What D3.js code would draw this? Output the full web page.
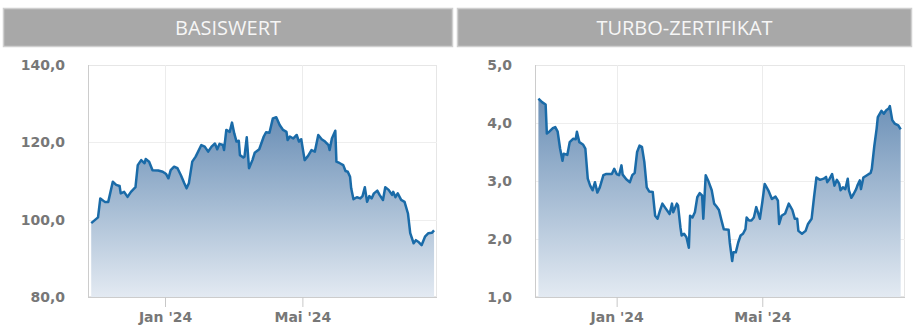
<!DOCTYPE html>
<html><head><meta charset="utf-8">
<script src="https://cdn.jsdelivr.net/npm/d3@7/dist/d3.min.js"></script>
<style>html,body{margin:0;padding:0;background:#fff}svg{display:block}</style>
</head><body>
<svg id="c" width="915" height="326"></svg>
<script>
const titles = ["BASISWERT", "TURBO-ZERTIFIKAT"];
const xTickDates = ["2024-01-01", "2024-05-01"];
const xTickLabels = ["Jan '24", "Mai '24"];
const basisTicks = [80, 100, 120, 140];
const turboTicks = [1, 2, 3, 4, 5];

const basisDates = ["2023-10-28","2023-11-03","2023-11-05","2023-11-09","2023-11-12","2023-11-16","2023-11-19","2023-11-22","2023-11-23","2023-11-26","2023-11-29","2023-12-02","2023-12-06","2023-12-08","2023-12-11","2023-12-14","2023-12-15","2023-12-18","2023-12-21","2023-12-26","2023-12-30","2024-01-02","2024-01-04","2024-01-06","2024-01-09","2024-01-12","2024-01-15","2024-01-18","2024-01-20","2024-01-22","2024-01-25","2024-01-28","2024-02-02","2024-02-05","2024-02-08","2024-02-11","2024-02-14","2024-02-16","2024-02-18","2024-02-21","2024-02-22","2024-02-24","2024-02-27","2024-02-29","2024-03-02","2024-03-04","2024-03-06","2024-03-07","2024-03-10","2024-03-11","2024-03-13","2024-03-15","2024-03-18","2024-03-20","2024-03-24","2024-03-28","2024-03-30","2024-04-02","2024-04-05","2024-04-08","2024-04-11","2024-04-14","2024-04-17","2024-04-18","2024-04-20","2024-04-23","2024-04-26","2024-04-28","2024-04-30","2024-05-03","2024-05-06","2024-05-09","2024-05-12","2024-05-15","2024-05-18","2024-05-21","2024-05-24","2024-05-25","2024-05-27","2024-05-30","2024-05-31","2024-06-03","2024-06-06","2024-06-08","2024-06-10","2024-06-12","2024-06-13","2024-06-15","2024-06-18","2024-06-21","2024-06-23","2024-06-25","2024-06-27","2024-06-29","2024-07-01","2024-07-03","2024-07-06","2024-07-08","2024-07-11","2024-07-13","2024-07-16","2024-07-19","2024-07-20","2024-07-22","2024-07-24","2024-07-27","2024-07-30","2024-08-02","2024-08-04","2024-08-07","2024-08-09","2024-08-11","2024-08-14","2024-08-17","2024-08-20","2024-08-23","2024-08-25"];
const basisValues = [99.1,100.6,105.5,104.6,104.6,109.8,109.0,108.7,106.8,107.2,105.9,107.2,108.4,114.1,115.4,114.6,115.7,115.0,112.8,112.7,112.4,111.8,110.7,112.8,113.7,113.3,111.5,109.4,108.1,109.4,115.0,116.3,119.3,118.9,117.6,118.9,119.7,118.2,119.6,119.3,118.0,123.2,122.7,125.1,122.3,120.2,120.4,116.7,116.1,116.3,121.3,113.3,115.4,117.3,118.2,121.5,122.6,122.5,126.2,126.5,124.5,123.2,122.7,120.6,121.5,121.0,121.9,120.2,120.8,115.4,116.5,118.0,117.6,121.9,120.8,120.2,119.3,118.0,121.0,123.0,115.0,114.6,114.1,112.6,112.4,111.1,108.1,105.3,105.8,105.5,106.1,108.4,104.6,106.1,105.5,106.8,107.5,106.4,105.1,108.4,107.7,106.4,107.2,105.8,106.8,105.1,104.6,101.6,96.5,93.9,94.7,94.3,93.4,95.6,96.5,96.6,97.2];

const turboDates = ["2023-10-28","2023-10-31","2023-11-03","2023-11-04","2023-11-06","2023-11-09","2023-11-11","2023-11-13","2023-11-15","2023-11-17","2023-11-18","2023-11-21","2023-11-23","2023-11-26","2023-11-28","2023-11-29","2023-12-01","2023-12-04","2023-12-06","2023-12-08","2023-12-10","2023-12-12","2023-12-14","2023-12-16","2023-12-18","2023-12-21","2023-12-23","2023-12-28","2023-12-30","2024-01-01","2024-01-03","2024-01-05","2024-01-06","2024-01-09","2024-01-12","2024-01-14","2024-01-16","2024-01-18","2024-01-20","2024-01-22","2024-01-24","2024-01-26","2024-01-28","2024-01-31","2024-02-02","2024-02-04","2024-02-06","2024-02-08","2024-02-11","2024-02-14","2024-02-16","2024-02-17","2024-02-20","2024-02-21","2024-02-23","2024-02-24","2024-02-26","2024-02-28","2024-03-01","2024-03-02","2024-03-04","2024-03-06","2024-03-08","2024-03-10","2024-03-12","2024-03-13","2024-03-15","2024-03-17","2024-03-20","2024-03-22","2024-03-24","2024-03-26","2024-03-28","2024-03-30","2024-04-03","2024-04-04","2024-04-06","2024-04-07","2024-04-09","2024-04-11","2024-04-13","2024-04-15","2024-04-17","2024-04-18","2024-04-20","2024-04-22","2024-04-24","2024-04-26","2024-04-29","2024-05-01","2024-05-03","2024-05-06","2024-05-09","2024-05-12","2024-05-14","2024-05-15","2024-05-17","2024-05-20","2024-05-23","2024-05-26","2024-05-28","2024-05-30","2024-05-31","2024-06-03","2024-06-06","2024-06-08","2024-06-11","2024-06-13","2024-06-15","2024-06-18","2024-06-21","2024-06-23","2024-06-24","2024-06-26","2024-06-28","2024-06-30","2024-07-02","2024-07-04","2024-07-05","2024-07-07","2024-07-09","2024-07-11","2024-07-12","2024-07-14","2024-07-16","2024-07-18","2024-07-19","2024-07-21","2024-07-22","2024-07-24","2024-07-27","2024-07-30","2024-07-31","2024-08-02","2024-08-04","2024-08-05","2024-08-08","2024-08-10","2024-08-12","2024-08-14","2024-08-15","2024-08-17","2024-08-19","2024-08-22","2024-08-24"];
const turboValues = [4.42,4.36,4.32,3.82,3.85,3.91,3.93,3.85,3.56,3.35,3.47,3.45,3.67,3.73,3.72,3.85,3.67,3.63,3.56,3.04,2.92,2.84,2.98,2.80,2.89,3.10,3.12,3.12,3.21,3.12,3.10,3.27,3.11,3.03,2.98,3.10,3.14,3.50,3.61,3.59,3.33,2.89,2.82,2.81,2.40,2.35,2.49,2.61,2.52,2.43,2.61,2.46,2.61,2.58,2.20,2.06,2.09,2.03,1.85,2.40,2.37,2.46,2.72,2.79,2.75,2.35,3.10,3.01,2.84,2.61,2.56,2.50,2.33,2.17,2.16,1.94,1.62,1.77,1.77,1.94,2.06,2.09,2.17,2.37,2.32,2.32,2.37,2.55,2.35,2.63,2.95,2.84,2.69,2.73,2.66,2.26,2.40,2.44,2.61,2.50,2.35,2.35,2.14,2.09,2.14,2.26,2.35,2.72,3.06,3.02,3.04,3.07,2.98,3.04,3.12,2.92,3.02,2.95,2.84,2.89,2.86,3.04,2.84,2.71,2.78,2.86,2.92,3.01,2.86,3.06,3.10,3.14,3.21,3.59,3.90,4.10,4.21,4.16,4.22,4.25,4.29,4.05,3.99,3.96,3.89];

const parse = d3.timeParse("%Y-%m-%d");
const xDomain = [new Date(2023, 9, 25, 4), new Date(2024, 7, 27, 14)];
const svg = d3.select("#c");

const defs = svg.append("defs");
const grad = defs.append("linearGradient").attr("id", "ag")
  .attr("x1", 0).attr("y1", 0).attr("x2", 0).attr("y2", 1);
grad.append("stop").attr("offset", "0%").attr("stop-color", "#6a8fb6");
grad.append("stop").attr("offset", "100%").attr("stop-color", "#e3eaf2");

const panels = [
  {title: titles[0], dates: basisDates, values: basisValues, ticks: basisTicks, dom: [80, 140],
   hx: 3, hw: 450, px0: 88, px1: 437, fmt: v => d3.format(".1f")(v).replace(".", ",")},
  {title: titles[1], dates: turboDates, values: turboValues, ticks: turboTicks, dom: [1, 5],
   hx: 457, hw: 455, px0: 535, px1: 905, fmt: v => d3.format(".1f")(v).replace(".", ",")}
];
const py0 = 65, py1 = 297;

panels.forEach((p, i) => {
  const g = svg.append("g");
  // header
  g.append("rect").attr("x", p.hx + 0.5).attr("y", 8.5).attr("width", p.hw - 1).attr("height", 38)
    .attr("fill", "#a8a8a8").attr("stroke", "#cfcfcf").attr("stroke-width", 1.5);
  g.append("text").attr("x", p.hx + p.hw / 2).attr("y", 35).attr("text-anchor", "middle")
    .attr("font-family", "Open Sans").attr("font-weight", 400).attr("font-size", 20)
    .attr("fill", "#f6f6f6").text(p.title);

  const x = d3.scaleTime().domain(xDomain).range([p.px0, p.px1]);
  const y = d3.scaleLinear().domain(p.dom).range([py1, py0]);
  const data = p.dates.map((d, k) => ({d: parse(d), v: p.values[k]}));

  // plot frame
  g.append("rect").attr("x", p.px0 + 0.5).attr("y", py0 + 0.5).attr("width", p.px1 - p.px0 - 1)
    .attr("height", py1 - py0 - 1).attr("fill", "none").attr("stroke", "#e6e6e6");

  // grid
  g.append("g").selectAll("line").data(p.ticks.slice(1, -1)).join("line")
    .attr("x1", p.px0).attr("x2", p.px1).attr("y1", d => Math.round(y(d)) + 0.5).attr("y2", d => Math.round(y(d)) + 0.5)
    .attr("stroke", "#eeeeee");
  g.append("g").selectAll("line").data(xTickDates).join("line")
    .attr("x1", d => Math.round(x(parse(d))) + 0.5).attr("x2", d => Math.round(x(parse(d))) + 0.5)
    .attr("y1", py0).attr("y2", py1).attr("stroke", "#ececec");

  // area + line
  const area = d3.area().x(d => x(d.d)).y0(py1).y1(d => y(d.v));
  const line = d3.line().x(d => x(d.d)).y(d => y(d.v));
  g.append("path").datum(data).attr("d", area).attr("fill", "url(#ag)");
  g.append("path").datum(data).attr("d", line).attr("fill", "none")
    .attr("stroke", "#1a6ba8").attr("stroke-width", 2.5).attr("stroke-linejoin", "round");

  // left & bottom axis lines
  g.append("line").attr("x1", p.px0 + 0.5).attr("x2", p.px0 + 0.5).attr("y1", py0).attr("y2", py1)
    .attr("stroke", "#cccccc");
  g.append("line").attr("x1", p.px0).attr("x2", p.px1).attr("y1", py1 + 0.5).attr("y2", py1 + 0.5)
    .attr("stroke", "#cccccc");

  // x axis
  const xAxis = d3.axisBottom(x).tickValues(xTickDates.map(parse))
    .tickFormat((d, k) => xTickLabels[k]).tickSize(10).tickPadding(5);
  const xa = g.append("g").attr("transform", `translate(0,${py1})`).call(xAxis);
  xa.select(".domain").remove();
  xa.selectAll(".tick line").attr("stroke", "#c8c8c8");
  xa.selectAll(".tick text").attr("font-family", "DejaVu Sans").attr("font-weight", "bold")
    .attr("font-size", 14).attr("fill", "#777");

  // y axis
  const yAxis = d3.axisLeft(y).tickValues(p.ticks).tickFormat(p.fmt).tickSize(0).tickPadding(23);
  const ya = g.append("g").attr("transform", `translate(${p.px0},0)`).call(yAxis);
  ya.select(".domain").remove();
  ya.selectAll(".tick text").attr("font-family", "DejaVu Sans").attr("font-weight", "bold")
    .attr("font-size", 14).attr("fill", "#777");
});
</script>
</body></html>
